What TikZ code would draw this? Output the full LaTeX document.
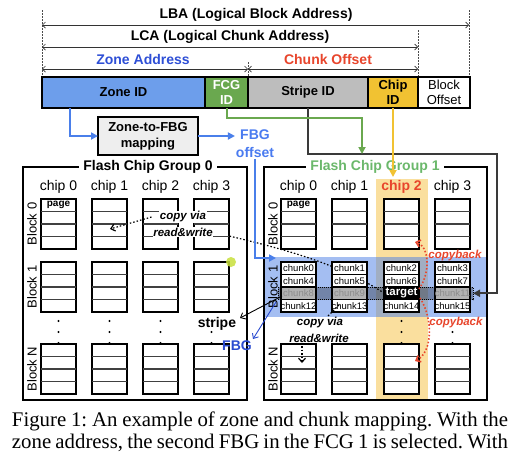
\documentclass[tikz,border=0pt]{standalone}
\usepackage{fontspec}
\setmainfont{Liberation Sans}
\newfontfamily\capfont{Liberation Serif}
\usetikzlibrary{arrows.meta}
\definecolor{zoneblue}{HTML}{6D9EEB}
\definecolor{fcggreen}{HTML}{6AA84F}
\definecolor{stripegrey}{HTML}{BDBDBD}
\definecolor{chipyellow}{HTML}{F1C232}
\definecolor{colyellow}{HTML}{FADF9E}
\definecolor{arrblue}{HTML}{4A7FEA}
\definecolor{bandblue}{HTML}{4A7FE6}
\definecolor{txtblue}{HTML}{2E4FD6}
\definecolor{offblue}{HTML}{4A7BF0}
\definecolor{fbgblue}{HTML}{2A4BD0}
\definecolor{redtxt}{HTML}{E8452C}
\definecolor{grouptxt}{HTML}{6BB86B}
\definecolor{darkline}{HTML}{3A3A3A}
\definecolor{dotgreen}{HTML}{C8E03C}
\definecolor{mapfill}{HTML}{EEEEEE}
\begin{document}
\begin{tikzpicture}[x=1pt,y=-1pt,
  every node/.style={inner sep=0pt, outer sep=0pt},
  ttl/.style={font=\bfseries\fontsize{14}{16}\selectfont},
  seg/.style={draw, line width=2pt, minimum height=31pt, anchor=north west},
  segtxt/.style={font=\bfseries\fontsize{13}{14.5}\selectfont, align=center},
  dim/.style={draw=black!80, line width=0.7pt, {Straight Barb[length=3pt,width=6pt]}-{Straight Barb[length=3pt,width=6pt]}},
  guide/.style={draw=black!70, line width=0.6pt, dash pattern=on 1.5pt off 1.5pt},
  bluearr/.style={draw=arrblue, line width=2.2pt, -{Triangle[length=7pt,width=7pt]}},
  greenarr/.style={draw=fcggreen, line width=2pt, -{Triangle[length=7pt,width=7pt]}},
  darkarr/.style={draw=darkline, line width=2pt, -{Triangle[length=7pt,width=7pt]}},
  yelarr/.style={draw=chipyellow, line width=2pt, -{Triangle[length=7pt,width=7pt]}},
  frame/.style={draw, line width=2pt},
  grouptitle/.style={font=\bfseries\fontsize{14}{16}\selectfont, fill=white, inner xsep=4pt, inner ysep=1pt},
  chiplbl/.style={font=\fontsize{14}{16}\selectfont},
  blk/.style={draw, line width=1.8pt, fill=white, minimum width=35pt, minimum height=50pt},
  rowln/.style={draw=black!75, line width=1.2pt},
  blklbl/.style={font=\fontsize{13}{15}\selectfont, rotate=90},
  chunktxt/.style={font=\fontsize{9.5}{10}\selectfont},
  cpy/.style={draw=black, line width=1.2pt, dash pattern=on 1.5pt off 2pt},
  cpytxt/.style={font=\bfseries\itshape\fontsize{11.5}{13}\selectfont, fill=white, inner sep=0.5pt},
  redarr/.style={draw=redtxt, line width=1.6pt, dash pattern=on 1.5pt off 2pt, -{Straight Barb[length=4pt,width=7pt]}},
  redtext/.style={font=\bfseries\itshape\fontsize{11.5}{13}\selectfont, text=redtxt},
  thinarr/.style={line width=0.9pt, -{Straight Barb[length=4pt,width=7pt]}},
  captxt/.style={font=\capfont\frenchspacing\fontsize{20.8}{24}\selectfont, anchor=base west}
]
\useasboundingbox (0,0) rectangle (518,459);
\fill[white] (0,0) rectangle (518,459);

% ---------- dimension lines ----------
\draw[guide] (42,10) -- (42,77);
\draw[guide] (469,10) -- (469,77);
\draw[guide] (418,30) -- (418,77);
\draw[guide] (248,62) -- (248,77);
\coordinate (lbaL) at (42,25);   \coordinate (lbaR) at (469,25);
\coordinate (lcaL) at (42,47);   \coordinate (lcaR) at (418,47);
\coordinate (zaL) at (42,69);    \coordinate (zaR) at (248,69);
\coordinate (coR) at (418,69);
\draw[dim] (lbaL) -- (lbaR);
\draw[dim] (lcaL) -- (lcaR);
\draw[dim] (zaL) -- (zaR);
\draw[dim] (zaR) -- (coR);
\node[ttl] (lba) at (256,15) {LBA (Logical Block Address)};
\node[ttl] (lca) at (230,37) {LCA (Logical Chunk Address)};
\node[ttl, text=txtblue] (za) at (143,59) {Zone Address};
\node[ttl, text=redtxt] (co) at (328,59) {Chunk Offset};

% ---------- address bar ----------
\node[seg, fill=zoneblue, minimum width=163pt] (zoneid) at (42,77) {};
\node[seg, fill=fcggreen, minimum width=43pt] (fcgid) at (205,77) {};
\node[seg, fill=stripegrey, minimum width=120pt] (stripeid) at (248,77) {};
\node[seg, fill=chipyellow, minimum width=50pt] (chipid) at (368,77) {};
\node[seg, fill=white, minimum width=52pt] (blkoff) at (418,77) {};
\node[segtxt] at (zoneid) {Zone ID};
\node[segtxt, text=white] at (fcgid) {FCG\\ID};
\node[segtxt] at (stripeid) {Stripe ID};
\node[segtxt] at (chipid) {Chip\\ID};
\node[font=\fontsize{13}{14.5}\selectfont, align=center] at (blkoff) {Block\\Offset};

% ---------- mapping ----------
\node[draw, fill=mapfill, line width=1.2pt, minimum width=100pt, minimum height=38pt,
      font=\bfseries\fontsize{13}{16}\selectfont, align=center] (z2f) at (148,136) {Zone-to-FBG\\mapping};
\node[font=\bfseries\fontsize{14}{18}\selectfont, text=offblue, align=center, inner sep=1pt] (fbgoff) at (255,144) {FBG\\offset};
\draw[bluearr] (zoneid.south west) ++(28,0) |- (z2f.west);
\draw[bluearr] (z2f.east) -- (fbgoff.west |- z2f.east);

% ---------- highlight fills ----------
\fill[colyellow] (376,179) rectangle (428,400);
\fill[bandblue, fill opacity=0.5] (265,257) rectangle (486,317);

% dotted copy path (below blocks)
\coordinate (rw0e) at (216,233);
\coordinate (tgtw) at (384,293);
\draw[cpy] (rw0e) .. controls (300,252) and (345,268) .. (tgtw);

% ---------- frames ----------
\draw[frame] (23,167) rectangle (247,400);
\draw[frame] (264,167) rectangle (487,400);

% ---------- blocks ----------
\foreach \x [count=\ci from 0] in {41,92,143,194}{
  \foreach \y [count=\bi from 0] in {199,262,344}{
    \node[blk] (a\ci-\bi) at (\x+17.5,\y+25) {};
    \foreach \r in {1,2,3}{\draw[rowln] (\x,\y+12.5*\r) -- (\x+35,\y+12.5*\r);}
  }
}
\foreach \x [count=\ci from 0] in {281,332,384,435}{
  \foreach \y [count=\bi from 0] in {199,262,344}{
    \node[blk] (b\ci-\bi) at (\x+17.5,\y+25) {};
    \foreach \r in {1,2,3}{\draw[rowln] (\x,\y+12.5*\r) -- (\x+35,\y+12.5*\r);}
  }
}
\foreach \x in {281,332,384,435}{
  \foreach \r in {1,2,3}{\draw[black, line width=1.4pt] (\x,262+12.5*\r) -- (\x+35,262+12.5*\r);}
}

% page labels
\node[font=\bfseries\fontsize{10}{11}\selectfont] (pg0) at (58.5,205) {page};
\node[font=\bfseries\fontsize{10}{11}\selectfont] (pg1) at (298.5,205) {page};

% chip labels
\foreach \x/\n in {58.5/0,109.5/1,160.5/2,211.5/3}{\node[chiplbl] (ca\n) at (\x,187) {chip \n};}
\foreach \x/\n in {298.5/0,349.5/1,452.5/3}{\node[chiplbl] (cb\n) at (\x,187) {chip \n};}
\node[chiplbl, font=\bfseries\fontsize{14}{16}\selectfont, text=redtxt] (cb2) at (401.5,187) {chip 2};

% block labels
\foreach \y/\n in {224/0,287/1,369/N}{
  \node[blklbl] (la\n) at (32,\y) {Block \n};
  \node[blklbl] (lb\n) at (273,\y) {Block \n};
}

% dots
\foreach \x in {58.5,109.5,160.5,211.5,401.5}{\foreach \y in {321,332,343}{\fill (\x,\y) circle (1.1);}}
\foreach \y in {332,343}{\fill (452.5,\y) circle (1.1);}

% chunk labels
\foreach \x [count=\ci from 0] in {298.5,349.5,401.5,452.5}{
  \foreach \r in {0,1,3}{
    \pgfmathtruncatemacro{\k}{4*\r+\ci}
    \node[chunktxt] at (\x,268.25+12.5*\r) {chunk\k};
  }
}
% stripe overlay
\node[draw, densely dotted, line width=1pt, fill=black, fill opacity=0.3, minimum width=195pt, minimum height=12.5pt] (stripe) at (375.5,293.25) {};
\node[chunktxt, text=black!45] at (298.5,293.25) {chunk8};
\node[chunktxt, text=black!45] at (349.5,293.25) {chunk9};
\node[chunktxt, text=black!45] at (452.5,293.25) {chunk11};
\node[fill=black, text=white, minimum width=35pt, minimum height=12.5pt, font=\bfseries\fontsize{11.5}{12}\selectfont] (target) at (401.5,293.25) {target};

% group titles
\node[grouptitle] (fcg0) at (148,167) {Flash Chip Group 0};
\node[grouptitle, text=grouptxt] (fcg1) at (375,167) {Flash Chip Group 1};

% ---------- routing arrows ----------
\coordinate (stripeE) at (stripe.east);
\coordinate (dk1) at (497,154);
\draw[darkarr] (stripeid.south) |- (dk1) |- (stripeE);
\coordinate (g1) at (362,154);
\draw[greenarr] (fcgid.south) -- ++(0,10) -| (g1);
\coordinate (y1) at (chipid.south |- 0,177);
\draw[yelarr] (chipid.south) -- (y1);
\coordinate (bandW) at (276,258);
\draw[bluearr] (fbgoff.south) |- (bandW);

% ---------- copy via read&write ----------
\node[cpytxt] (cv0) at (183,217) {copy via};
\node[cpytxt] (rw0) at (183,232) {read\&write};
\coordinate (cp0tip) at (110,229);
\draw[cpy, -{Straight Barb[length=4pt,width=7pt]}] ([xshift=-8pt]cv0.west) -- (cp0tip);

\node[cpytxt] (cv1) at (320,323) {copy via};
\node[cpytxt] (rw1) at (319,338) {read\&write};
\coordinate (c13) at (339,305);
\coordinate (cv1ne) at (327,317);
\draw[cpy] (c13) -- (cv1ne);
\coordinate (cp1tip) at (302,363);
\draw[cpy, -{Straight Barb[length=4pt,width=7pt]}] (rw1.south -| cp1tip) -- (cp1tip);

% ---------- copyback ----------
\coordinate (cbu) at (415,242);
\coordinate (cbd) at (415,361);
\draw[redarr] (419,289) .. controls (431,272) and (429,246) .. (cbu);
\draw[redarr] (420,298) .. controls (433,318) and (433,352) .. (cbd);
\node[redtext] (cbt1) at (455,256) {copyback};
\node[redtext] (cbt2) at (456,323) {copyback};

% ---------- stripe / FBG labels ----------
\node[font=\bfseries\fontsize{14}{16}\selectfont] (stripelbl) at (217,324) {stripe};
\node[font=\bfseries\fontsize{14}{16}\selectfont, text=fbgblue] (fbglbl) at (237,346) {FBG};
\coordinate (stTip) at (240,318);
\coordinate (stSrc) at (282,296);
\draw[thinarr, black] (stSrc) -- (stTip);
\coordinate (fbTip) at (253,339);
\coordinate (fbSrc) at (276,302);
\draw[thinarr, draw=fbgblue] (fbSrc) -- (fbTip);

% pointer dot
\fill[dotgreen, fill opacity=0.85] (231,262) circle (5);

% ---------- caption ----------
\node[captxt] (cap1) at (12,426) {\makebox[496pt][s]{Figure 1: An example of zone and chunk mapping. With the}};
\node[captxt] (cap2) at (12,448) {\makebox[496pt][s]{zone address, the second FBG in the FCG 1 is selected. With}};
\end{tikzpicture}
\end{document}
